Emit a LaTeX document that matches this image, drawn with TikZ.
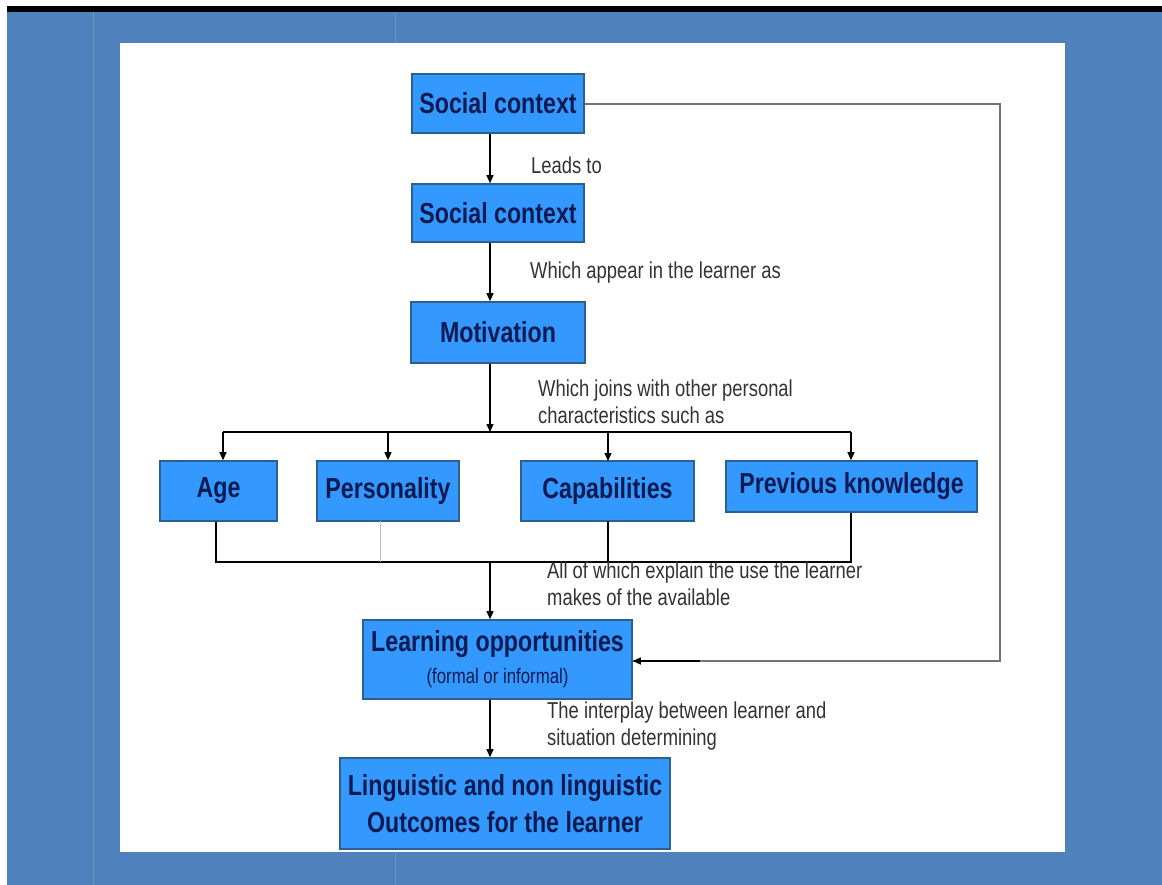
\documentclass[tikz,border=0pt]{standalone}
\usepackage{fontspec}
\setmainfont{Liberation Sans}[FakeStretch=0.8]
\usetikzlibrary{arrows.meta,calc}
\definecolor{slideblue}{HTML}{4F81BD}
\definecolor{seamblue}{HTML}{6A93C8}
\definecolor{boxfill}{HTML}{3399FF}
\definecolor{boxline}{HTML}{2F5F8F}
\definecolor{boxtext}{HTML}{0C1A52}
\definecolor{labeltext}{HTML}{333333}
\begin{document}
\begin{tikzpicture}[x=1pt,y=-1pt,
  stage/.style={draw=boxline,line width=1.6pt,fill=boxfill,text=boxtext,
    font=\fontsize{29}{33}\selectfont\bfseries,inner sep=0pt,align=center},
  note/.style={text=labeltext,font=\fontsize{23}{27}\selectfont,
    inner sep=0pt,anchor=north west,align=left},
  link/.style={draw=black,line width=1.3pt},
  flow/.style={link,-{Triangle[length=8pt,width=7pt]}},
  feedback/.style={draw=black!55,line width=2pt},
  faint/.style={draw=black!25,line width=0.8pt}]
% slide frame
\useasboundingbox (0,0) rectangle (1162,885);
\fill[white] (0,0) rectangle (1162,885);
\fill[black] (7,6) rectangle (1162,12);
\fill[slideblue] (7,12) rectangle (1162,885);
\draw[seamblue,line width=1pt] (93,12) -- (93,885);
\draw[seamblue,line width=1pt] (395,12) -- (395,885);
\fill[white] (120,43) rectangle (1065,852);

% boxes
\node[stage,minimum width=172pt,minimum height=59pt] (social1) at (498,103.5) {Social context};
\node[stage,minimum width=172pt,minimum height=58pt] (social2) at (498,213) {Social context};
\node[stage,minimum width=174pt,minimum height=61pt] (motiv) at (498,332.5) {Motivation};
\node[stage,minimum width=117pt,minimum height=60pt] (age) at (218.5,491) {Age};
\node[stage,minimum width=142pt,minimum height=60pt] (pers) at (388,491) {Personality};
\node[stage,minimum width=173pt,minimum height=60pt] (capab) at (607.5,491) {Capabilities};
\node[stage,minimum width=251pt,minimum height=51pt] (prev) at (851.5,486.5) {Previous knowledge};
\node[stage,minimum width=269pt,minimum height=79pt] (learn) at (497.5,659.5)
  {Learning opportunities\\[-1pt]{\fontsize{21}{24}\selectfont\mdseries (formal or informal)}};
\node[stage,minimum width=330pt,minimum height=91pt,
  font=\fontsize{29}{37}\selectfont\bfseries] (outcome) at (505,803.5)
  {Linguistic and non linguistic\\Outcomes for the learner};

% routing points
\coordinate (spine) at (490,0);
\coordinate (busL) at (223,432);
\coordinate (busR) at (851,432);
\coordinate (busM) at (490,432);
\coordinate (colL) at (216,562);
\coordinate (colR) at (851,562);
\coordinate (colM) at (490,562);
\coordinate (fbTop) at (1000,104);
\coordinate (fbBot) at (1000,661);

% main chain
\draw[flow] (social1.south -| spine) -- (social2.north -| spine);
\draw[flow] (social2.south -| spine) -- (motiv.north -| spine);
\draw[flow] (motiv.south -| spine) -- (busM);

% distribution bus
\draw[link] (busL) -- (busR);
\draw[flow] (busL) -- (busL |- age.north);
\draw[flow] (pers.north |- busL) -- (pers.north);
\draw[flow] (608,432) -- (608,461);
\draw[flow] (busR) -- (busR |- prev.north);

% collector
\draw[link] (colL |- age.south) -- (colL) -- (colR) -- (colR |- prev.south);
\draw[link] (608,521) -- (608,562);
\draw[faint] (380,521) -- (380,562);
\draw[flow] (colM) -- (colM |- learn.north);

% feedback path
\draw[feedback] (social1.east |- fbTop) -- (fbTop) -- (fbBot) -- (learn.east |- fbBot);
\draw[flow] (fbBot) ++(-300,0) -- (learn.east |- fbBot);

% outcome
\draw[flow] (learn.south -| spine) -- (outcome.north -| spine);

% labels
\node[note,anchor=west] (lbl1) at (531,165) {Leads to};
\node[note,anchor=west] (lbl2) at (530,273) {Which appear in the learner as};
\node[note] (lbl3) at (538,380) {Which joins with other personal\\characteristics such as};
\node[note] (lbl4) at (547,562) {All of which explain the use the learner\\makes of the available};
\node[note] (lbl5) at (547,702) {The interplay between learner and\\situation determining};
\end{tikzpicture}
\end{document}
